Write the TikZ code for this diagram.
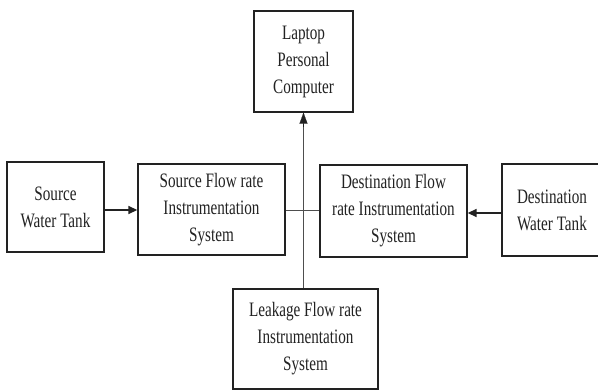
\documentclass[tikz,border=0pt]{standalone}
\usepackage{fontspec}
\setmainfont{Liberation Serif}[FakeStretch=0.74]
\usetikzlibrary{arrows.meta}
\definecolor{ink}{HTML}{222222}
\tikzset{
  blk/.style={draw=ink, line width=1.4pt, rectangle, inner sep=0pt, align=center,
    text=ink, font=\fontsize{20.5}{27}\selectfont},
  flow/.style={draw=ink, line width=1.6pt, -{Triangle[length=9pt,width=8pt]}},
  wire/.style={draw=ink!80, line width=0.9pt},
}
\begin{document}
\begin{tikzpicture}[x=1pt,y=-1pt]
\useasboundingbox (0,0) rectangle (598,390);
\fill[white] (0,0) rectangle (598,390);
\clip (0,0) rectangle (598,390);

\node[blk, minimum width=99pt, minimum height=101pt] (laptop) at (303.5,61.5)
  {Laptop\\Personal\\Computer};
\node[blk, minimum width=97pt, minimum height=90pt] (srctank) at (55.5,207)
  {Source\\Water Tank};
\node[blk, minimum width=147pt, minimum height=91pt] (srcflow) at (211.5,209.5)
  {Source Flow rate\\Instrumentation\\System};
\node[blk, minimum width=147pt, minimum height=92pt] (dstflow) at (393.5,211)
  {Destination Flow\\rate Instrumentation\\System};
\node[blk, minimum width=100pt, minimum height=92pt] (dsttank) at (552,210)
  {Destination\\Water Tank};
\node[blk, minimum width=145pt, minimum height=100pt] (leak) at (305.5,339)
  {Leakage Flow rate\\Instrumentation\\System};

% water flow into the two instrumentation systems
\draw[flow] (srctank.east |- 0,210) -- (srcflow.west |- 0,210);
\draw[flow] (dsttank.west |- 0,213) -- (dstflow.east |- 0,213);

% data bus to the computer
\draw[wire] (srcflow.east |- 0,210) -- (dstflow.west |- 0,210);
\draw[wire] (leak.north -| laptop.south) -- (laptop.south);
\draw[ink, line width=0.1pt, -{Triangle[length=11pt,width=8pt]}]
  (laptop.south) ++(0,14) -- (laptop.south);
\end{tikzpicture}
\end{document}
